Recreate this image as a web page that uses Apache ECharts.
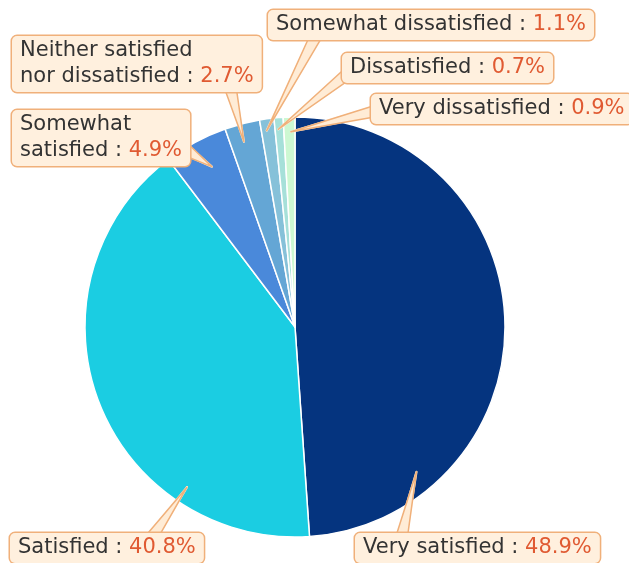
<!DOCTYPE html>
<html>
<head>
<meta charset="utf-8">
<script src="https://cdn.jsdelivr.net/npm/echarts@6/dist/echarts.min.js"></script>
<style>
  html, body { margin: 0; padding: 0; background: #fff; }
  #chart { width: 629px; height: 563px; }
</style>
</head>
<body>
<div id="chart"></div>
<script>
// Survey answers, clockwise from 12 o'clock
const categories = [
  'Very satisfied',
  'Satisfied',
  'Somewhat\nsatisfied',
  'Neither satisfied\nnor dissatisfied',
  'Somewhat dissatisfied',
  'Dissatisfied',
  'Very dissatisfied'
];
const shares = [48.9, 40.8, 4.9, 2.7, 1.1, 0.7, 0.9];

const sliceColors = ['#05347f', '#1bcde2', '#4a89da', '#64a6d5', '#86c1d9', '#a6e0d9', '#cdf8d2'];

// Callout box top-left corners and the point where each pointer leaves its box
const boxPos = [
  [355, 533], [10, 533], [12, 110], [12, 36], [268, 10], [342, 53], [371, 94]
];
const pointerBase = [
  [401, 540], [150, 540], [186, 150], [230, 86], [318, 32], [350, 72], [380, 110]
];
// where each pointer tip lands: angle clockwise from 12 o'clock (deg), fraction of radius
const tipAngle = [140, 214, 332.6, 344.6, 351.8, 355.2, 358.8];
const tipReach = [0.90, 0.92, 0.86, 0.915, 0.945, 0.945, 0.93];
const pointerHalfWidth = 6;

const CX = 295, CY = 327, R = 210;

const FONT = '"DejaVu Sans", sans-serif';
const rich = {
  n: { fontFamily: FONT, fontSize: 21, color: '#333333', lineHeight: 26 },
  c: { fontFamily: FONT, fontSize: 21, color: '#333333', lineHeight: 26 },
  v: { fontFamily: FONT, fontSize: 21, color: '#e05a32', lineHeight: 26 }
};

function labelText(p) {
  const lines = categories[p.dataIndex].split('\n');
  const last = lines.pop();
  const head = lines.map(l => '{n|' + l + '}').join('\n');
  return (head ? head + '\n' : '') + '{n|' + last + '}{c| : }{v|' + shares[p.dataIndex].toFixed(1) + '%}';
}

function tipPoint(i) {
  const a = tipAngle[i] * Math.PI / 180;
  const r = R * tipReach[i];
  return [CX + r * Math.sin(a), CY - r * Math.cos(a)];
}

// wedge geometry: tip, base and the unit normal across the base
function wedge(i) {
  const tip = tipPoint(i);
  const base = pointerBase[i];
  const ux = base[0] - tip[0], uy = base[1] - tip[1];
  const len = Math.sqrt(ux * ux + uy * uy) || 1;
  return { tip, base, nx: -uy / len, ny: ux / len };
}

// pale body of the pointer: a dense fan of strokes from the tip to the base
function fillLayout(p) {
  const i = p.dataIndex;
  const w = wedge(i);
  const pts = [];
  const h = pointerHalfWidth - 1.2;
  for (let t = -h; t <= h + 0.01; t += 1.2) {
    pts.push(w.tip);
    pts.push([w.base[0] + w.nx * t, w.base[1] + w.ny * t]);
  }
  return { x: boxPos[i][0], y: boxPos[i][1], align: 'left', verticalAlign: 'top', labelLinePoints: pts };
}

// thin orange edges of the pointer, plus the callout box
function edgeLayout(p) {
  const i = p.dataIndex;
  const w = wedge(i);
  const h = pointerHalfWidth;
  return {
    x: boxPos[i][0], y: boxPos[i][1], align: 'left', verticalAlign: 'top',
    labelLinePoints: [
      [w.base[0] + w.nx * h, w.base[1] + w.ny * h],
      w.tip,
      [w.base[0] - w.nx * h, w.base[1] - w.ny * h]
    ]
  };
}

const data = categories.map((c, i) => ({
  name: c,
  value: shares[i],
  itemStyle: { color: sliceColors[i] }
}));
const ghostData = data.map(d => ({ name: d.name, value: d.value, itemStyle: { color: 'rgba(0,0,0,0)' } }));

const common = {
  type: 'pie',
  center: [CX, CY],
  radius: R,
  startAngle: 90,
  clockwise: true,
  avoidLabelOverlap: false,
  silent: true,
  animation: false
};
const labelBase = {
  show: true,
  formatter: labelText,
  rich: rich,
  padding: [2, 8, 2, 8]
};

const chart = echarts.init(document.getElementById('chart'), null, { renderer: 'canvas' });
chart.setOption({
  backgroundColor: '#ffffff',
  series: [
    // the slices
    Object.assign({}, common, {
      z: 1,
      data: data,
      itemStyle: { borderColor: '#ffffff', borderWidth: 1.5 },
      label: { show: false },
      labelLine: { show: false }
    }),
    // pointer bodies
    Object.assign({}, common, {
      z: 2,
      data: ghostData,
      itemStyle: { borderWidth: 0 },
      labelLayout: fillLayout,
      label: Object.assign({}, labelBase, { opacity: 0 }),
      labelLine: { show: true, length: 5, length2: 5, lineStyle: { color: '#ffecd6', width: 2.2, cap: 'round', join: 'round' } }
    }),
    // pointer edges and the callout boxes
    Object.assign({}, common, {
      z: 3,
      data: ghostData,
      itemStyle: { borderWidth: 0 },
      labelLayout: edgeLayout,
      label: Object.assign({}, labelBase, {
        backgroundColor: '#fff0de',
        borderColor: '#f0b07a',
        borderWidth: 1.5,
        borderRadius: 5
      }),
      labelLine: { show: true, length: 5, length2: 5, lineStyle: { color: '#f0b07a', width: 1.5, cap: 'round', join: 'round' } }
    })
  ]
});
</script>
</body>
</html>
